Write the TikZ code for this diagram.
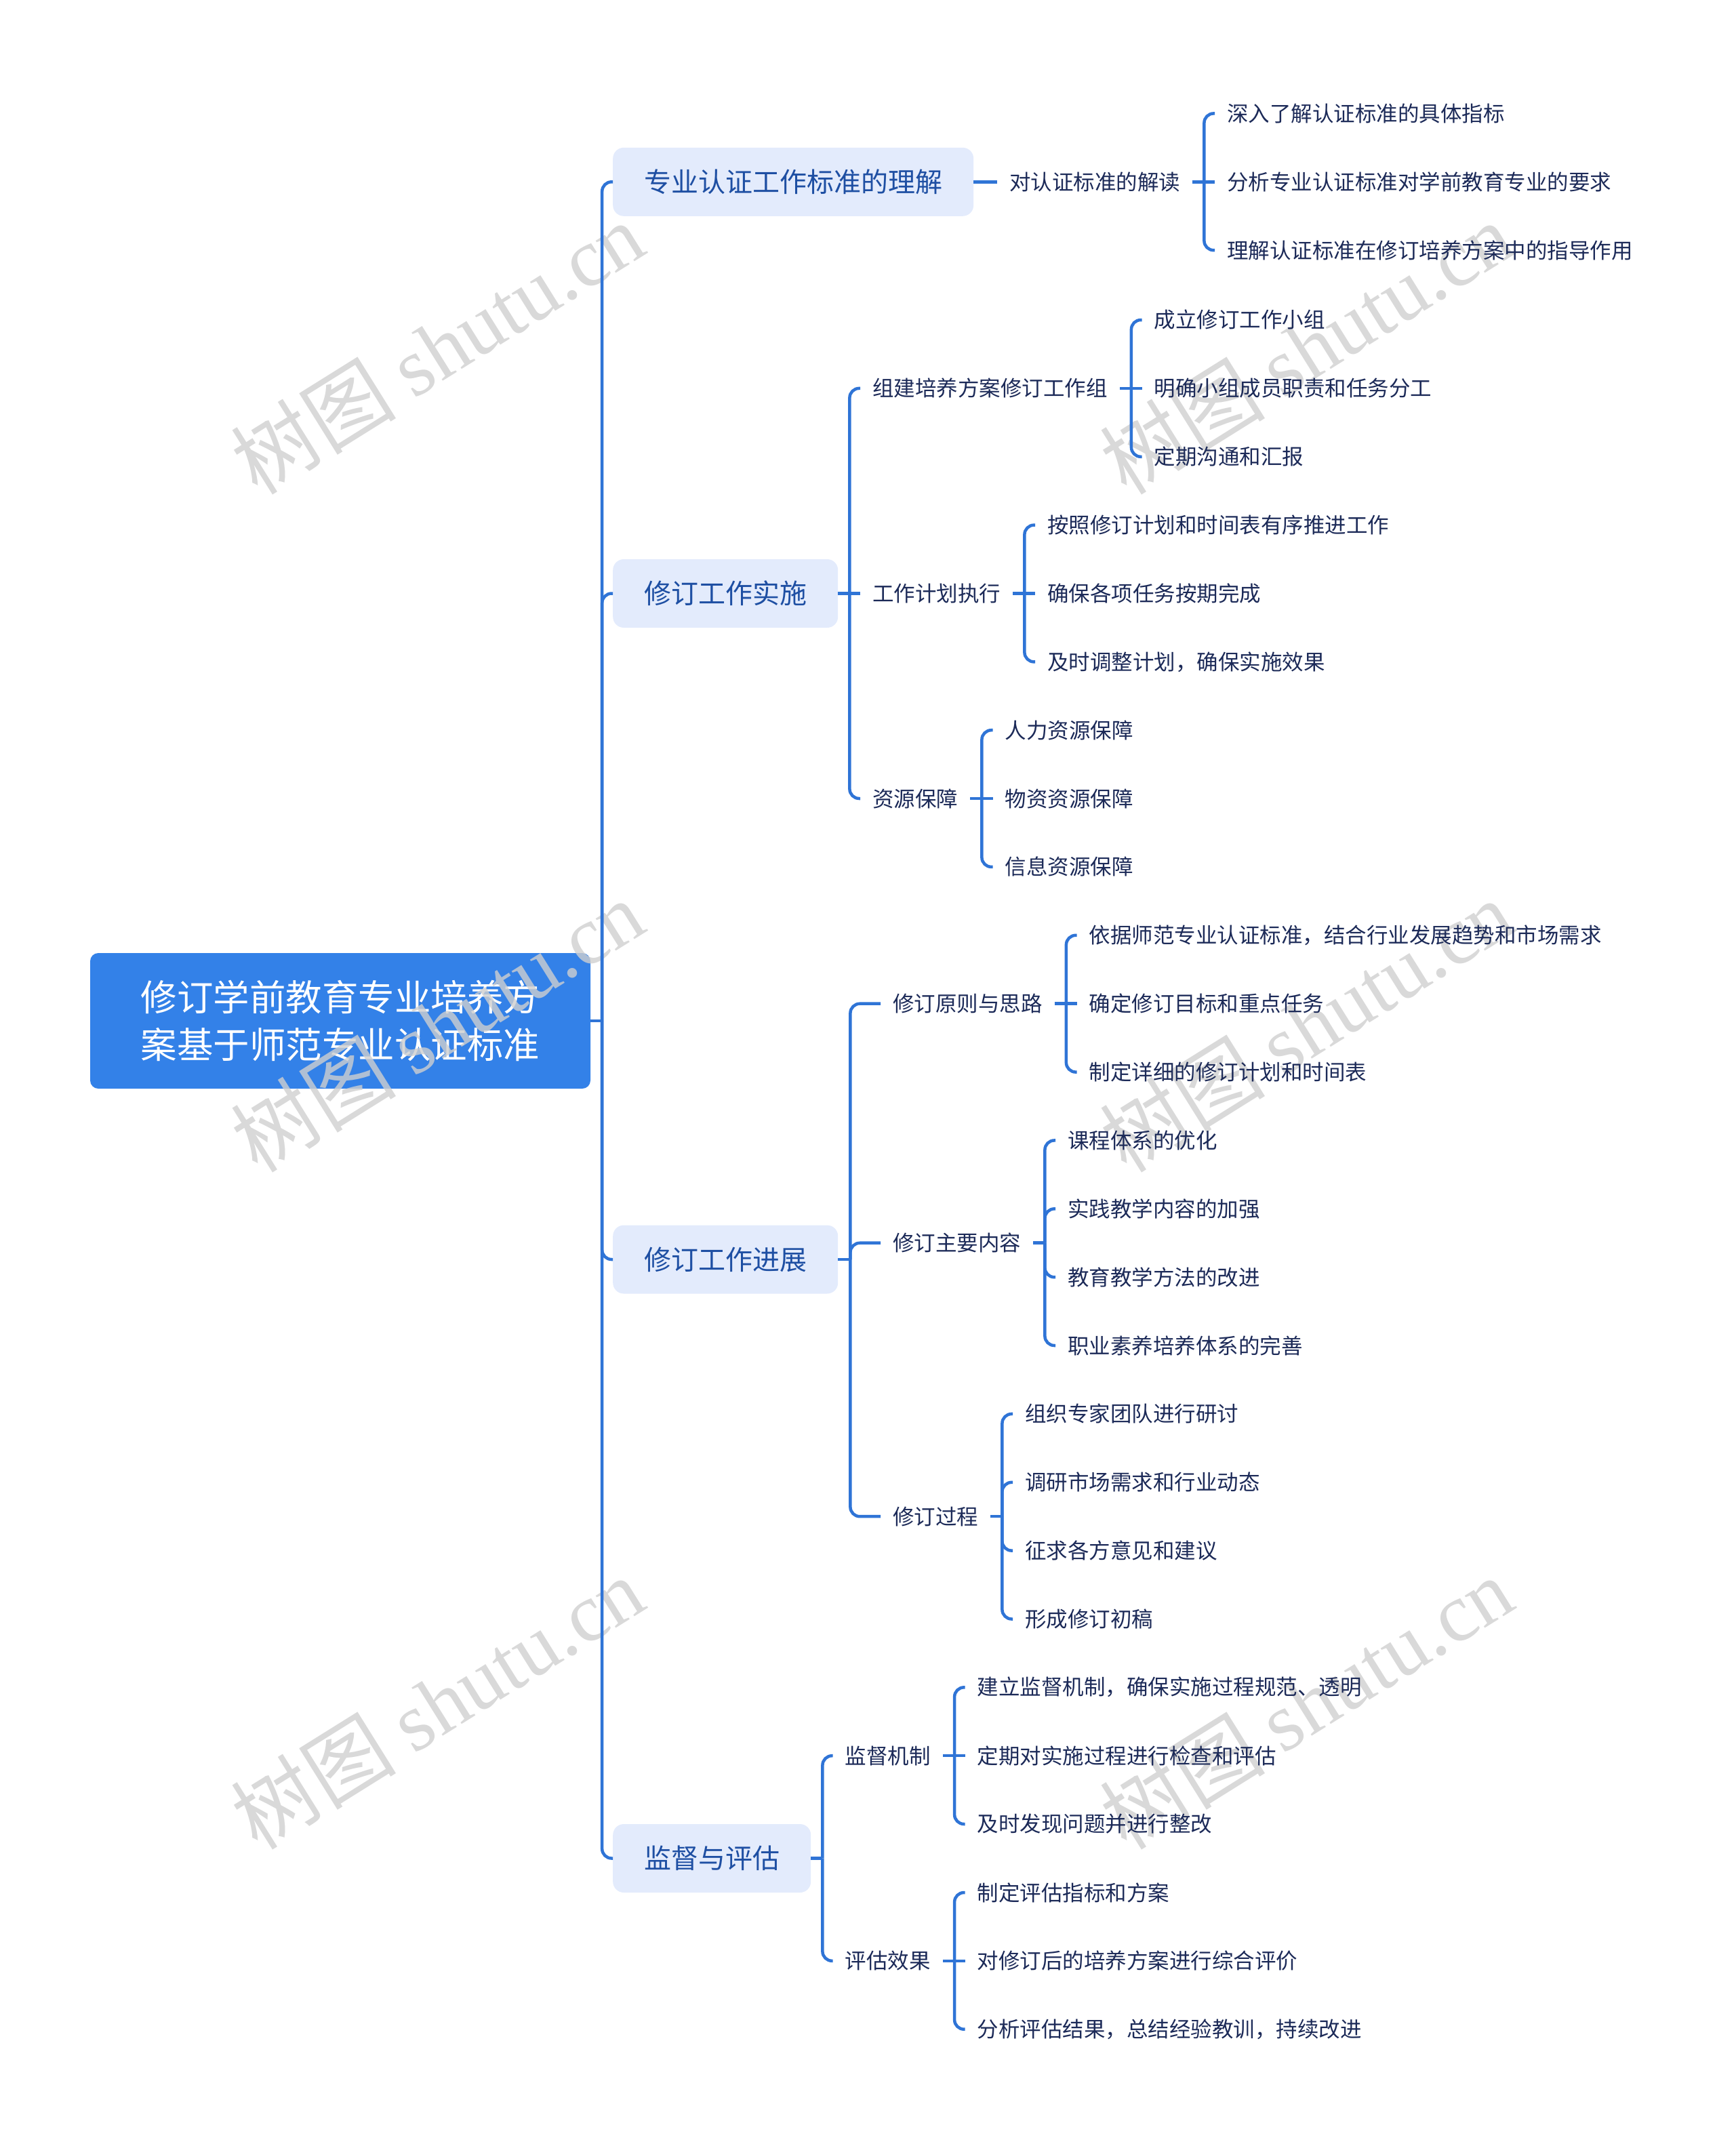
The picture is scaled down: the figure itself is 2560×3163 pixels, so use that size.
\documentclass[tikz,border=0pt]{standalone}
\usepackage{fontspec}
\setmainfont{Noto Sans CJK SC}
\newfontfamily\wmlatin{Liberation Serif}
\usetikzlibrary{calc}
\definecolor{rootblue}{HTML}{3381E8}
\definecolor{linecol}{HTML}{2F74D6}
\definecolor{lvfill}{HTML}{E3EBFC}
\definecolor{lvtext}{HTML}{1E4FA3}
\definecolor{leaftext}{HTML}{1C2A58}
\definecolor{wmgray}{HTML}{CFCFCF}
\begin{document}
\begin{tikzpicture}[x=1pt,y=-1pt,
 rootbox/.style={fill=rootblue, text=white, rounded corners=12pt, minimum width=738pt, minimum height=200pt, align=center, font=\fontsize{53.5}{70.6}\selectfont, inner sep=0pt},
 topicbox/.style={fill=lvfill, text=lvtext, rounded corners=16pt, minimum height=101pt, inner xsep=46pt, inner ysep=0pt, font=\fontsize{40}{48}\selectfont, anchor=west},
 leaf/.style={text=leaftext, inner xsep=18pt, inner ysep=4pt, font=\fontsize{31.5}{38}\selectfont, anchor=west},
 conn/.style={draw=linecol, line width=4.5pt},
 hook/.style={conn, rounded corners=14pt},
 wm/.style={text=wmgray, opacity=0.8, rotate=32, inner sep=0pt, font=\fontsize{122}{130}\selectfont}
]
\useasboundingbox (0,0) rectangle (2560,3163);

% root
\node[rootbox] (root) at (502,1506) {修订学前教育专业培养方\\案基于师范专业认证标准};

% watermarks
\foreach \wx/\wy [count=\i] in {645/513, 1927/513, 645/1513, 1927/1513, 645/2512, 1927/2512}
  \node[wm] (wm\i) at (\wx,\wy) {树图 {\wmlatin shutu.cn}};

% level 1
\node[topicbox] (t1) at (904,268.3) {专业认证工作标准的理解};
\node[topicbox] (t2) at (904,875.5) {修订工作实施};
\node[topicbox] (t3) at (904,1858) {修订工作进展\hspace{28pt}};
\node[topicbox] (t4) at (904,2741.5) {监督与评估};

% level 2
\node[leaf] (c1) at (1471,268.3) {对认证标准的解读};
\node[leaf] (c21) at (1269,572.9) {组建培养方案修订工作组};
\node[leaf] (c22) at (1269,875.5) {工作计划执行};
\node[leaf] (c23) at (1269,1178) {资源保障};
\node[leaf] (c31) at (1299,1480.7) {修订原则与思路};
\node[leaf] (c32) at (1299,1833.7) {修订主要内容};
\node[leaf] (c33) at (1299,2237.2) {修订过程};
\node[leaf] (c41) at (1228.7,2590.2) {监督机制};
\node[leaf] (c42) at (1228.7,2892.8) {评估效果};

% leaves
\node[leaf] (l11) at (1792,167.4) {深入了解认证标准的具体指标};
\node[leaf] (l12) at (1792,268.3) {分析专业认证标准对学前教育专业的要求};
\node[leaf] (l13) at (1792,369.2) {理解认证标准在修订培养方案中的指导作用};

\node[leaf] (l211) at (1684.5,472) {成立修订工作小组};
\node[leaf] (l212) at (1684.5,572.9) {明确小组成员职责和任务分工};
\node[leaf] (l213) at (1684.5,673.8) {定期沟通和汇报};

\node[leaf] (l221) at (1527,774.6) {按照修订计划和时间表有序推进工作};
\node[leaf] (l222) at (1527,875.5) {确保各项任务按期完成};
\node[leaf] (l223) at (1527,976.4) {及时调整计划，确保实施效果};

\node[leaf] (l231) at (1464.7,1077.2) {人力资源保障};
\node[leaf] (l232) at (1464.7,1178) {物资资源保障};
\node[leaf] (l233) at (1464.7,1278.9) {信息资源保障};

\node[leaf] (l311) at (1588.5,1379.8) {依据师范专业认证标准，结合行业发展趋势和市场需求};
\node[leaf] (l312) at (1588.5,1480.7) {确定修订目标和重点任务};
\node[leaf] (l313) at (1588.5,1581.6) {制定详细的修订计划和时间表};

\node[leaf] (l321) at (1557,1682.4) {课程体系的优化};
\node[leaf] (l322) at (1557,1783.3) {实践教学内容的加强};
\node[leaf] (l323) at (1557,1884.2) {教育教学方法的改进};
\node[leaf] (l324) at (1557,1985) {职业素养培养体系的完善};

\node[leaf] (l331) at (1494,2085.9) {组织专家团队进行研讨};
\node[leaf] (l332) at (1494,2186.8) {调研市场需求和行业动态};
\node[leaf] (l333) at (1494,2287.6) {征求各方意见和建议};
\node[leaf] (l334) at (1494,2388.5) {形成修订初稿};

\node[leaf] (l411) at (1423.7,2489.3) {建立监督机制，确保实施过程规范、透明};
\node[leaf] (l412) at (1423.7,2590.2) {定期对实施过程进行检查和评估};
\node[leaf] (l413) at (1423.7,2691) {及时发现问题并进行整改};

\node[leaf] (l421) at (1423.7,2792) {制定评估指标和方案};
\node[leaf] (l422) at (1423.7,2892.8) {对修订后的培养方案进行综合评价};
\node[leaf] (l423) at (1423.7,2993.7) {分析评估结果，总结经验教训，持续改进};

% junctions
\coordinate (j0) at ($(root.east)+(17,0)$);
\coordinate (jt2) at ($(t2.east)+(17,0)$);
\coordinate (jt3) at ($(t3.east)+(18,0)$);
\coordinate (jt4) at ($(t4.east)+(17,0)$);
\coordinate (jc1) at ($(c1.east)+(17,0)$);
\coordinate (jc21) at ($(c21.east)+(17,0)$);
\coordinate (jc22) at ($(c22.east)+(17,0)$);
\coordinate (jc23) at ($(c23.east)+(17,0)$);
\coordinate (jc31) at ($(c31.east)+(17,0)$);
\coordinate (jc32) at ($(c32.east)+(17,0)$);
\coordinate (jc33) at ($(c33.east)+(17,0)$);
\coordinate (jc41) at ($(c41.east)+(17,0)$);
\coordinate (jc42) at ($(c42.east)+(17,0)$);

% root -> level 1
\draw[conn] (root.east) -- (j0);
\foreach \t in {t1,t2,t3,t4} \draw[hook] (j0) |- (\t.west);

% t1
\draw[conn] (t1.east) -- (c1.west);
\draw[conn] (c1.east) -- (jc1);
\draw[hook] (jc1) |- (l11.west);
\draw[conn] (jc1) -- (l12.west);
\draw[hook] (jc1) |- (l13.west);

% t2
\draw[conn] (t2.east) -- (jt2);
\draw[hook] (jt2) |- (c21.west);
\draw[conn] (jt2) -- (c22.west);
\draw[hook] (jt2) |- (c23.west);
\draw[conn] (c21.east) -- (jc21);
\draw[hook] (jc21) |- (l211.west);
\draw[conn] (jc21) -- (l212.west);
\draw[hook] (jc21) |- (l213.west);
\draw[conn] (c22.east) -- (jc22);
\draw[hook] (jc22) |- (l221.west);
\draw[conn] (jc22) -- (l222.west);
\draw[hook] (jc22) |- (l223.west);
\draw[conn] (c23.east) -- (jc23);
\draw[hook] (jc23) |- (l231.west);
\draw[conn] (jc23) -- (l232.west);
\draw[hook] (jc23) |- (l233.west);

% t3
\draw[conn] (t3.east) -- (jt3);
\foreach \c in {c31,c32,c33} \draw[hook] (jt3) |- (\c.west);
\draw[conn] (c31.east) -- (jc31);
\draw[hook] (jc31) |- (l311.west);
\draw[conn] (jc31) -- (l312.west);
\draw[hook] (jc31) |- (l313.west);
\draw[conn] (c32.east) -- (jc32);
\foreach \l in {l321,l322,l323,l324} \draw[hook] (jc32) |- (\l.west);
\draw[conn] (c33.east) -- (jc33);
\foreach \l in {l331,l332,l333,l334} \draw[hook] (jc33) |- (\l.west);

% t4
\draw[conn] (t4.east) -- (jt4);
\foreach \c in {c41,c42} \draw[hook] (jt4) |- (\c.west);
\draw[conn] (c41.east) -- (jc41);
\draw[hook] (jc41) |- (l411.west);
\draw[conn] (jc41) -- (l412.west);
\draw[hook] (jc41) |- (l413.west);
\draw[conn] (c42.east) -- (jc42);
\draw[hook] (jc42) |- (l421.west);
\draw[conn] (jc42) -- (l422.west);
\draw[hook] (jc42) |- (l423.west);
\end{tikzpicture}
\end{document}
